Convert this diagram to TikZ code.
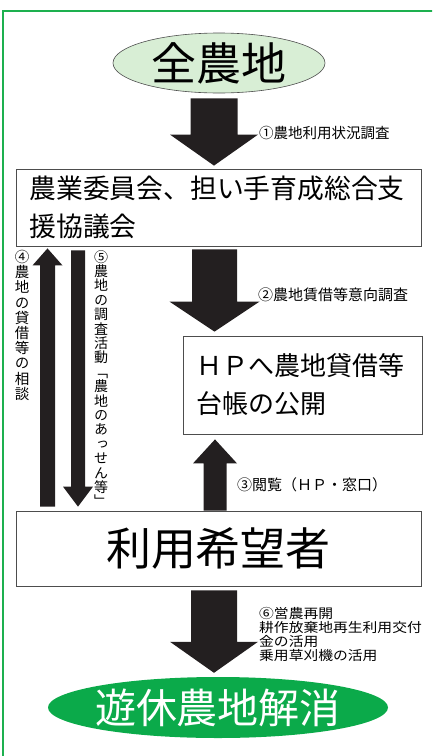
\documentclass[tikz,border=0pt]{standalone}
\usepackage{fontspec}
\usetikzlibrary{shapes.geometric,calc}
\newfontfamily\jp{Noto Sans CJK JP}
\newfontfamily\jpw{Noto Sans CJK JP}[FakeStretch=1.12]
\newfontfamily\jpv{Noto Sans CJK JP}[RawFeature=+vert]
\definecolor{frameg}{HTML}{1DB04F}
\definecolor{lightg}{HTML}{D8EED5}
\definecolor{goalg}{HTML}{0BAA4A}
\definecolor{arrowc}{HTML}{231F20}
\definecolor{boxline}{HTML}{4D4D4D}
% block arrow: start, end, half shaft width, half head width, head length
\newcommand\blockarrow[5]{%
  \fill[arrowc] let \p1=(#1), \p2=(#2), \n1={sign(\y2-\y1)} in
    (\x1-#3,\y1) -- (\x1-#3,\y2-\n1*#5) -- (\x1-#4,\y2-\n1*#5) -- (\x1,\y2)
    -- (\x1+#4,\y2-\n1*#5) -- (\x1+#3,\y2-\n1*#5) -- (\x1+#3,\y1) -- cycle;}
\begin{document}
\begin{tikzpicture}[x=1pt,y=-1pt,
  ell/.style={ellipse, inner sep=0pt},
  box/.style={rectangle, draw=boxline, line width=0.8pt, fill=white},
  lbl/.style={inner sep=0pt, text=black}]
\useasboundingbox (0,0) rectangle (432,756);
\begin{scope}
  \clip (0,0) rectangle (432,756);
  \draw[frameg, line width=2pt] (3,11) rectangle (470,800);
\end{scope}

\node[ell, fill=lightg, draw=boxline, line width=0.6pt, minimum width=212pt, minimum height=60pt,
  label={[font=\jp\fontsize{45}{45}\selectfont]center:全農地}] (top) at (219,63) {};

\node[box, minimum width=405pt, minimum height=77pt, text width=378pt, align=left,
  font={\jp\fontsize{26.8}{38}\selectfont\lineskiplimit=-20pt}] (council) at (218.5,207.5)
  {農業委員会、担い手育成総合支\\援協議会};

\node[box, minimum width=239pt, minimum height=98pt, text width=212pt, align=left,
  font={\jp\fontsize{26}{38}\selectfont\lineskiplimit=-20pt}] (ledger) at (302.5,385)
  {ＨＰへ農地貸借等\\台帳の公開};

\node[box, minimum width=405pt, minimum height=75pt,
  font=\jp\fontsize{45}{45}\selectfont] (applicant) at (218.5,548.5) {利用希望者};

\node[ell, fill=goalg, minimum width=340pt, minimum height=61pt,
  label={[font=\jp\fontsize{41}{41}\selectfont, text=white]center:遊休農地解消}] (goal) at (218,707.5) {};

% arrows
\blockarrow{[xshift=-5pt,yshift=-5pt]top.south}{[xshift=-4.5pt,yshift=3pt]council.north}{23.5pt}{44pt}{31pt}
\blockarrow{[xshift=-4pt,yshift=-3pt]council.south}{[xshift=-88pt,yshift=4pt]ledger.north}{22.5pt}{45pt}{30pt}
\blockarrow{[xshift=-3.5pt]applicant.north}{[xshift=-87.5pt,yshift=-5pt]ledger.south}{11.5pt}{22pt}{24pt}
\blockarrow{[xshift=-171pt,yshift=4pt]applicant.north}{[xshift=-171pt,yshift=-2pt]council.south}{7.5pt}{15pt}{17pt}
\blockarrow{[xshift=-140.5pt,yshift=-4pt]council.south}{[xshift=-140.5pt,yshift=4pt]applicant.north}{7pt}{15pt}{20pt}
\blockarrow{[xshift=-4.5pt,yshift=-4pt]applicant.south}{[xshift=-4pt,yshift=4pt]goal.north}{23pt}{44pt}{31pt}

% labels
\node[lbl, anchor=west, font=\jp\fontsize{14.5}{16}\selectfont] (l1) at (259,133) {①農地利用状況調査};
\node[lbl, anchor=west, font=\jp\fontsize{15}{16}\selectfont] (l2) at (258,295) {②農地賃借等意向調査};
\node[lbl, anchor=west, font=\jp\fontsize{15}{16}\selectfont] (l3) at (237,485) {③閲覧（ＨＰ・窓口）};
\node[lbl, anchor=north west, align=left,
  font={\jpw\fontsize{13.2}{14}\selectfont\lineskiplimit=-20pt}] (l6) at (259,607)
  {⑥営農再開\\耕作放棄地再生利用交付\\金の活用\\乗用草刈機の活用};
\node[lbl, anchor=north, align=center,
  font={\jpv\fontsize{14.5}{15.2}\selectfont\lineskiplimit=-20pt}] (l4) at (22,250)
  {④\\農\\地\\の\\貸\\借\\等\\の\\相\\談};
\node[lbl, anchor=north, align=center,
  font={\jpv\fontsize{14}{14.4}\selectfont\lineskiplimit=-20pt}] (l5) at (101,250)
  {⑤\\農\\地\\の\\調\\査\\活\\動\\「\\農\\地\\の\\あ\\っ\\せ\\ん\\等\\」};
\end{tikzpicture}
\end{document}
